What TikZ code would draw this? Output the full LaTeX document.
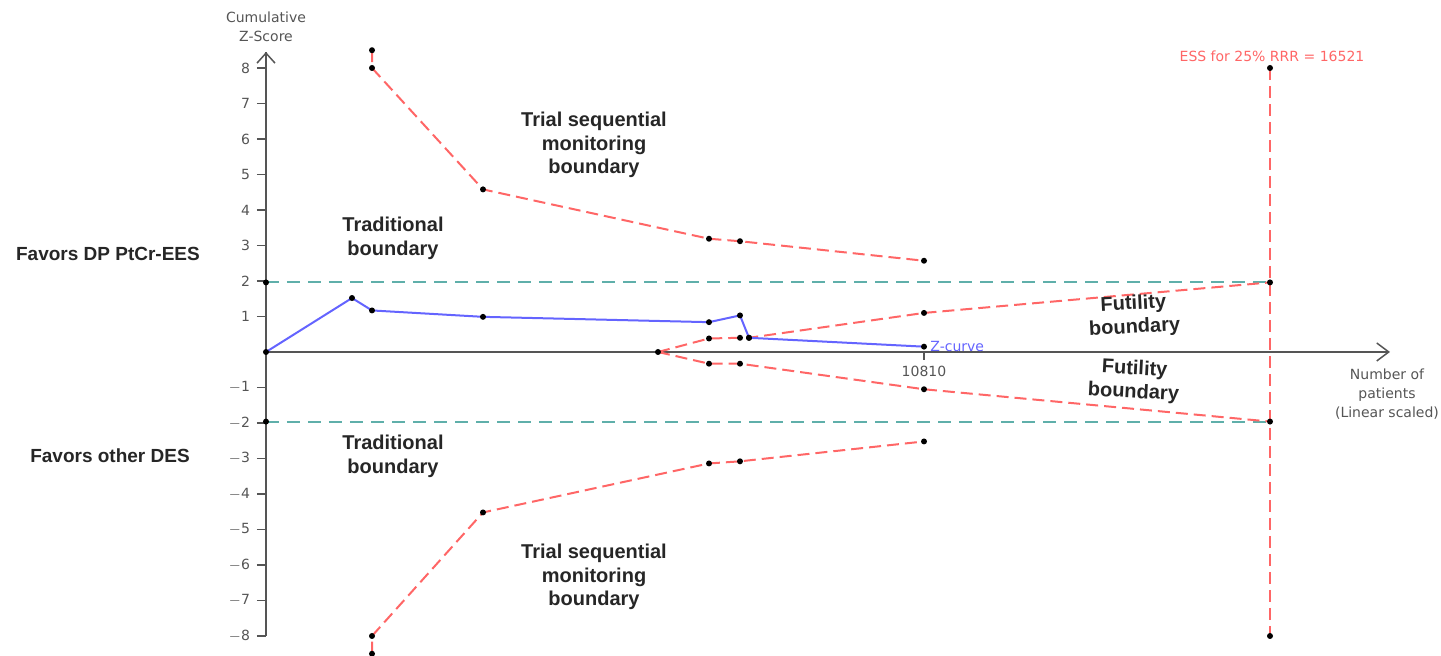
\documentclass[tikz,border=0pt]{standalone}
\usepackage{fontspec}
\setmainfont{Liberation Sans}
\newfontfamily\axisfont{DejaVu Sans}
\usepackage{xcolor}
\usetikzlibrary{arrows.meta, positioning}

\definecolor{tsmbRed}{RGB}{255,102,102}
\definecolor{tradTeal}{RGB}{95,175,170}
\definecolor{zBlue}{RGB}{100,100,255}
\definecolor{axisGray}{RGB}{85,85,85}

\begin{document}
\begin{tikzpicture}[
    x=0.5pt, y=17.75pt,
    font=\fontsize{10}{11.75}\selectfont\bfseries,
    axisline/.style={draw=axisGray, line width=0.75pt},
    axislabel/.style={font=\axisfont\fontsize{7}{9.5}\selectfont, text=axisGray, align=center},
    ticklabel/.style={font=\axisfont\fontsize{7}{8}\selectfont, text=axisGray},
    tsmbline/.style={draw=tsmbRed, line width=1pt, dash pattern=on 6pt off 3pt},
    tradline/.style={draw=tradTeal, line width=1pt, dash pattern=on 6.5pt off 4pt},
    zline/.style={draw=zBlue, line width=1pt, line join=round},
    textlabel/.style={align=center, text=black!85},
    dot/.style={fill=black},
]
\useasboundingbox (-266,-8.563) rectangle (1175,9.915);

% 1) Axes
\coordinate (orig) at (0,0);
\coordinate (yTop) at (0,8.45);
\coordinate (yBot) at (0,-8);
\coordinate (xEnd) at (1124,0);
\draw[axisline] (yBot) -- (yTop);
\draw[axisline, -{Straight Barb[length=5pt, width=9pt]}] (orig) -- (yTop);
\draw[axisline, -{Straight Barb[length=6pt, width=9pt]}] (orig) -- (xEnd);

\foreach \v in {1,...,8} {
  \draw[axisline] (-9,\v) -- (0,\v);
  \node[ticklabel, anchor=east] at (-9,\v) {\v};
  \draw[axisline] (-9,-\v) -- (0,-\v);
  \node[ticklabel, anchor=east] at (-9,-\v) {$-$\v};
}
\draw[axisline] (658,0) -- (658,-0.23);
\node[ticklabel, below=0pt of {(658,-0.2)}] (xTick) {10810};

\node[axislabel] (yTitle) at (0,9.15) {Cumulative\\Z-Score};
\node[axislabel] (xTitle) at (1121,-1.18) {Number of\\patients\\(Linear scaled)};

% 2) Data points
\coordinate (upT0) at (106,8.5);
\coordinate (upT1) at (106,8.0);
\coordinate (upT2) at (217,4.58);
\coordinate (upT3) at (443,3.19);
\coordinate (upT4) at (474,3.12);
\coordinate (upT5) at (658,2.57);

\coordinate (loT0) at (106,-8.5);
\coordinate (loT1) at (106,-8.0);
\coordinate (loT2) at (217,-4.52);
\coordinate (loT3) at (443,-3.14);
\coordinate (loT4) at (474,-3.08);
\coordinate (loT5) at (658,-2.52);

\coordinate (futStart) at (392,0);
\coordinate (upF1) at (443,0.38);
\coordinate (upF2) at (474,0.40);
\coordinate (upF3) at (483,0.40);
\coordinate (upF4) at (658,1.10);
\coordinate (upF5) at (1004,1.96);
\coordinate (loF1) at (443,-0.33);
\coordinate (loF2) at (474,-0.33);
\coordinate (loF3) at (658,-1.05);
\coordinate (loF4) at (1004,-1.96);

\coordinate (zc1) at (86,1.52);
\coordinate (zc2) at (106,1.17);
\coordinate (zc3) at (217,0.99);
\coordinate (zc4) at (443,0.84);
\coordinate (zc5) at (474,1.03);
\coordinate (zc6) at (483,0.40);
\coordinate (zc7) at (658,0.15);

\coordinate (tradUpL) at (0,1.96);
\coordinate (tradUpR) at (1004,1.96);
\coordinate (tradLoL) at (0,-1.96);
\coordinate (tradLoR) at (1004,-1.96);

\coordinate (essTop) at (1004,8.0);
\coordinate (essBot) at (1004,-8.0);

% 3) Boundaries
\draw[tradline] (tradUpL) -- (tradUpR);
\draw[tradline] (tradLoL) -- (tradLoR);

\draw[tsmbline] (upT0) -- (upT1) -- (upT2) -- (upT3) -- (upT4) -- (upT5);
\draw[tsmbline] (loT0) -- (loT1) -- (loT2) -- (loT3) -- (loT4) -- (loT5);
\draw[tsmbline] (futStart) -- (upF1) -- (upF2) -- (upF3) -- (upF4) -- (upF5);
\draw[tsmbline] (futStart) -- (loF1) -- (loF2) -- (loF3) -- (loF4);
\draw[tsmbline] (essTop) -- (essBot);

% 4) Z-curve
\draw[zline] (orig) -- (zc1) -- (zc2) -- (zc3) -- (zc4) -- (zc5) -- (zc6) -- (zc7);
\node[font=\axisfont\fontsize{7}{8}\selectfont, text=zBlue, anchor=west, inner sep=1pt] (zLabel) at (662,0.15) {Z-curve};

% dots
\foreach \p in {orig, upT0, upT1, upT2, upT3, upT4, upT5, loT0, loT1, loT2, loT3, loT4, loT5,
  futStart, upF1, upF2, upF3, upF4, upF5, loF1, loF2, loF3, loF4,
  zc1, zc2, zc3, zc4, zc5, zc6, zc7, tradUpL, tradLoL, essTop, essBot}
  \fill[dot] (\p) circle (1.5pt);

% 5) Labels
\node[font=\axisfont\fontsize{7}{8}\selectfont, text=tsmbRed] (essLabel) at (1006,8.34) {ESS for 25\% RRR = 16521};

\node[textlabel] (tsmbUp) at (328,5.83) {Trial sequential\\monitoring\\boundary};
\node[textlabel] (tsmbLo) at (328,-6.34) {Trial sequential\\monitoring\\boundary};
\node[textlabel] (tradUp) at (127,3.20) {Traditional\\boundary};
\node[textlabel] (tradLo) at (127,-2.94) {Traditional\\boundary};
\node[textlabel, rotate=3] (futUp) at (868,1.01) {Futility\\boundary};
\node[textlabel, rotate=-3] (futLo) at (868,-0.82) {Futility\\boundary};

\node[textlabel, font=\fontsize{9.5}{11}\selectfont\bfseries] (favUp) at (-158,2.76) {Favors DP PtCr-EES};
\node[textlabel, font=\fontsize{9.5}{11}\selectfont\bfseries] (favLo) at (-156,-2.93) {Favors other DES};

\end{tikzpicture}
\end{document}
